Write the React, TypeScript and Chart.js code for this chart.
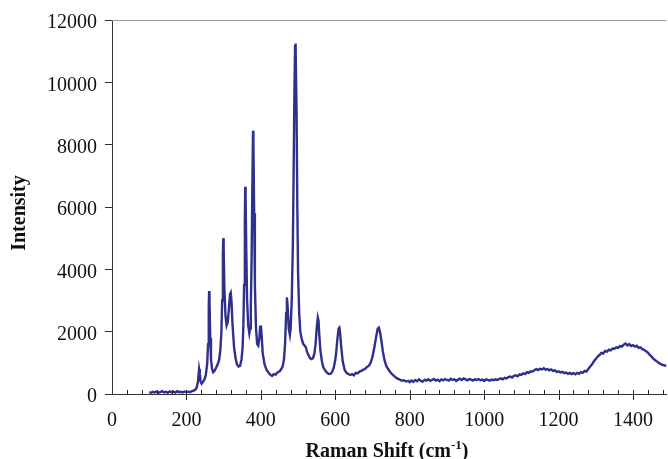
import { useEffect, useRef } from 'react';
import { Chart, registerables } from 'chart.js';

Chart.register(...registerables);

const ramanShift = [
  100, 105, 110, 115, 120, 125, 130, 135, 140, 145, 150, 155, 160, 165, 170, 175, 180, 185, 190, 195,
  200, 205, 210, 215, 220, 225, 228, 231, 234, 236, 238, 241, 244, 248, 252, 256, 258, 260, 261, 262,
  264, 266, 269, 272, 276, 280, 284, 288, 291, 294, 296, 298, 299, 300, 302, 305, 308, 311, 314, 317,
  319, 321, 324, 328, 332, 336, 340, 344, 348, 351, 353, 355, 357, 358, 359, 361, 363, 366, 369, 371,
  373, 375, 377, 379, 380, 382, 384, 387, 390, 393, 396, 398, 400, 402, 405, 410, 415, 420, 425, 430,
  435, 440, 445, 450, 455, 459, 462, 465, 468, 470, 472, 475, 478, 480, 483, 486, 488, 490, 492, 493,
  494, 496, 498, 500, 503, 506, 510, 514, 518, 521, 524, 528, 532, 536, 540, 544, 547, 550, 553, 555,
  557, 560, 564, 568, 573, 578, 583, 588, 592, 596, 600, 603, 606, 609, 611, 613, 616, 620, 625, 630,
  635, 640, 645, 650, 655, 660, 665, 670, 675, 680, 685, 690, 695, 700, 705, 710, 714, 717, 720, 724,
  728, 732, 737, 742, 748, 754, 760, 766, 772, 778, 784, 790, 796, 800, 805, 810, 815, 820, 825, 830,
  835, 840, 845, 850, 855, 860, 865, 870, 875, 880, 885, 890, 895, 900, 905, 910, 915, 920, 925, 930,
  935, 940, 945, 950, 955, 960, 965, 970, 975, 980, 985, 990, 995, 1000, 1005, 1010, 1015, 1020, 1025, 1030,
  1035, 1040, 1045, 1050, 1055, 1060, 1065, 1070, 1075, 1080, 1085, 1090, 1095, 1100, 1105, 1110, 1115, 1120, 1125, 1130,
  1135, 1140, 1145, 1150, 1155, 1160, 1165, 1170, 1175, 1180, 1185, 1190, 1195, 1200, 1205, 1210, 1215, 1220, 1225, 1230,
  1235, 1240, 1245, 1250, 1255, 1260, 1265, 1270, 1275, 1280, 1285, 1290, 1295, 1300, 1305, 1310, 1315, 1320, 1325, 1330,
  1335, 1340, 1345, 1350, 1355, 1360, 1365, 1370, 1375, 1380, 1385, 1390, 1395, 1400, 1405, 1410, 1415, 1420, 1425, 1430,
  1435, 1440, 1445, 1450, 1455, 1460, 1465, 1470, 1475, 1480, 1485, 1490, 1495,
];

const intensity = [
  60, 40, 70, 50, 80, 45, 60, 90, 50, 70, 40, 85, 55, 75, 45, 90, 60, 70, 50, 80,
  55, 75, 60, 90, 110, 150, 220, 400, 800, 650, 400, 330, 380, 450, 600, 1000, 1600, 2800, 3300, 3000,
  1800, 1100, 800, 700, 750, 850, 950, 1100, 1400, 2000, 3000, 4500, 5000, 4700, 3400, 2500, 2200, 2300, 2700, 3200,
  3250, 3000, 2200, 1500, 1150, 950, 880, 900, 1100, 1500, 2200, 3500, 5500, 6650, 6300, 4500, 3000, 2200, 1950, 2100,
  2800, 4200, 6500, 8450, 8000, 5800, 3500, 2100, 1600, 1550, 1800, 2150, 2200, 1900, 1300, 950, 780, 700, 620, 580,
  640, 620, 700, 720, 800, 900, 1100, 1600, 2600, 3100, 2800, 2100, 1900, 2100, 3000, 4800, 7000, 9500, 11200, 11250,
  11000, 9000, 6000, 3900, 2600, 2000, 1750, 1600, 1550, 1500, 1350, 1250, 1150, 1120, 1150, 1300, 1600, 2100, 2450, 2350,
  1900, 1400, 1050, 850, 750, 680, 640, 650, 720, 850, 1100, 1400, 1800, 2100, 2130, 1950, 1500, 1050, 780, 680,
  640, 610, 640, 600, 680, 660, 720, 740, 780, 800, 870, 900, 1000, 1200, 1500, 1850, 2100, 2130, 2000, 1700,
  1350, 1100, 900, 800, 700, 620, 560, 500, 470, 430, 440, 400, 420, 380, 430, 390, 450, 410, 470, 420,
  400, 460, 430, 470, 420, 450, 480, 430, 460, 410, 470, 440, 480, 450, 430, 490, 450, 470, 420, 460,
  490, 450, 500, 470, 440, 480, 460, 430, 470, 450, 480, 440, 460, 420, 470, 450, 430, 460, 440, 470,
  450, 480, 500, 470, 520, 500, 540, 560, 530, 580, 600, 570, 630, 610, 660, 640, 700, 680, 730, 720,
  760, 800, 770, 810, 790, 830, 780, 800, 760, 790, 740, 760, 710, 730, 690, 710, 670, 690, 650, 680,
  640, 670, 630, 680, 650, 700, 680, 740, 720, 800, 880, 950, 1050, 1120, 1200, 1250, 1320, 1300, 1380, 1360,
  1420, 1400, 1460, 1450, 1500, 1480, 1540, 1520, 1580, 1620, 1560, 1600, 1540, 1570, 1520, 1550, 1480, 1500, 1440, 1420,
  1370, 1330, 1250, 1200, 1130, 1080, 1040, 990, 960, 930, 920, 900, 880,
];

const xMajorTicks = [0, 200, 400, 600, 800, 1000, 1200, 1400];
const xMinorTicks = [
  40, 80, 120, 160, 240, 280, 320, 360, 440, 480, 520, 560, 640, 680, 720, 760,
  840, 880, 920, 960, 1040, 1080, 1120, 1160, 1240, 1280, 1320, 1360, 1440, 1480,
];
const yTicks = [0, 2000, 4000, 6000, 8000, 10000, 12000];

const xTitle = 'Raman Shift (cm';
const xTitleSup = '-1';
const xTitleEnd = ')';
const yTitle = 'Intensity';

const FONT = '"Times New Roman", "Liberation Serif", serif';

const axisDecor = {
  id: 'axisDecor',
  afterDraw(chart: any) {
    const { ctx, chartArea, scales } = chart;
    const x = scales.x;
    ctx.save();
    ctx.strokeStyle = '#9a9a9a';
    ctx.lineWidth = 1;
    ctx.beginPath();
    ctx.moveTo(chartArea.left, chartArea.top + 0.5);
    ctx.lineTo(chartArea.right, chartArea.top + 0.5);
    ctx.stroke();
    ctx.strokeStyle = '#222';
    const b = chartArea.bottom;
    xMajorTicks.forEach((v) => {
      if (v === 0) return;
      const px = Math.round(x.getPixelForValue(v)) + 0.5;
      ctx.beginPath();
      ctx.moveTo(px, b - 4);
      ctx.lineTo(px, b + 6);
      ctx.stroke();
    });
    xMinorTicks.forEach((v) => {
      const px = Math.round(x.getPixelForValue(v)) + 0.5;
      if (px > chartArea.right) return;
      ctx.beginPath();
      ctx.moveTo(px, b - 4);
      ctx.lineTo(px, b);
      ctx.stroke();
    });
    ctx.fillStyle = '#111';
    ctx.textBaseline = 'alphabetic';
    const mainFont = 'bold 20px ' + FONT;
    const supFont = 'bold 13px ' + FONT;
    ctx.font = mainFont;
    const w1 = ctx.measureText(xTitle).width;
    const w3 = ctx.measureText(xTitleEnd).width;
    ctx.font = supFont;
    const w2 = ctx.measureText(xTitleSup).width;
    const total = w1 + w2 + w3;
    const cx = 387;
    const baseY = 457;
    let sx = cx - total / 2;
    ctx.textAlign = 'left';
    ctx.font = mainFont;
    ctx.fillText(xTitle, sx, baseY);
    sx += w1;
    ctx.font = supFont;
    ctx.fillText(xTitleSup, sx, baseY - 8);
    sx += w2;
    ctx.font = mainFont;
    ctx.fillText(xTitleEnd, sx, baseY);
    ctx.save();
    ctx.translate(25, (chartArea.top + chartArea.bottom) / 2 + 6);
    ctx.rotate(-Math.PI / 2);
    ctx.textAlign = 'center';
    ctx.font = 'bold 20px ' + FONT;
    ctx.fillText(yTitle, 0, 0);
    ctx.restore();
    ctx.restore();
  },
};

export default function App() {
  const ref = useRef<HTMLCanvasElement | null>(null);
  useEffect(() => {
    document.body.style.margin = '0';
    const canvas = ref.current;
    if (!canvas) return;
    const points = ramanShift.map((v, i) => ({ x: v, y: intensity[i] }));
    const chart = new Chart(canvas, {
      type: 'line',
      data: {
        datasets: [
          {
            data: points,
            borderColor: '#2f2f8c',
            borderWidth: 2.4,
            pointRadius: 0,
            tension: 0,
            fill: false,
          },
        ],
      },
      options: {
        animation: false,
        responsive: false,
        maintainAspectRatio: false,
        devicePixelRatio: 1,
        layout: { padding: { top: 19, right: 0, left: 0, bottom: 0 } },
        plugins: { legend: { display: false }, tooltip: { enabled: false }, title: { display: false } },
        scales: {
          x: {
            type: 'linear',
            min: 0,
            max: 1490,
            afterFit: (s: any) => {
              s.height = 65;
            },
            afterBuildTicks: (s: any) => {
              s.ticks = xMajorTicks.map((v) => ({ value: v }));
            },
            grid: { display: true, drawOnChartArea: false, drawTicks: false },
            border: { display: true, color: '#333', width: 1 },
            ticks: {
              color: '#111',
              font: { family: FONT, size: 20 },
              padding: 15,
              maxRotation: 0,
              autoSkip: false,
              callback: (v: any) => String(v),
            },
          },
          y: {
            type: 'linear',
            min: 0,
            max: 12000,
            afterFit: (s: any) => {
              s.width = 112;
            },
            afterBuildTicks: (s: any) => {
              s.ticks = yTicks.map((v) => ({ value: v }));
            },
            grid: { display: true, drawOnChartArea: false, drawTicks: true, tickLength: 7, color: '#333' },
            border: { display: true, color: '#333', width: 1 },
            ticks: {
              color: '#111',
              font: { family: FONT, size: 20 },
              padding: 8,
              labelOffset: 3,
              autoSkip: false,
              callback: (v: any) => String(v),
            },
          },
        },
      },
      plugins: [axisDecor],
    });
    return () => chart.destroy();
  }, []);
  return <canvas ref={ref} width={668} height={459} style={{ display: 'block', width: 668, height: 459 }} />;
}
